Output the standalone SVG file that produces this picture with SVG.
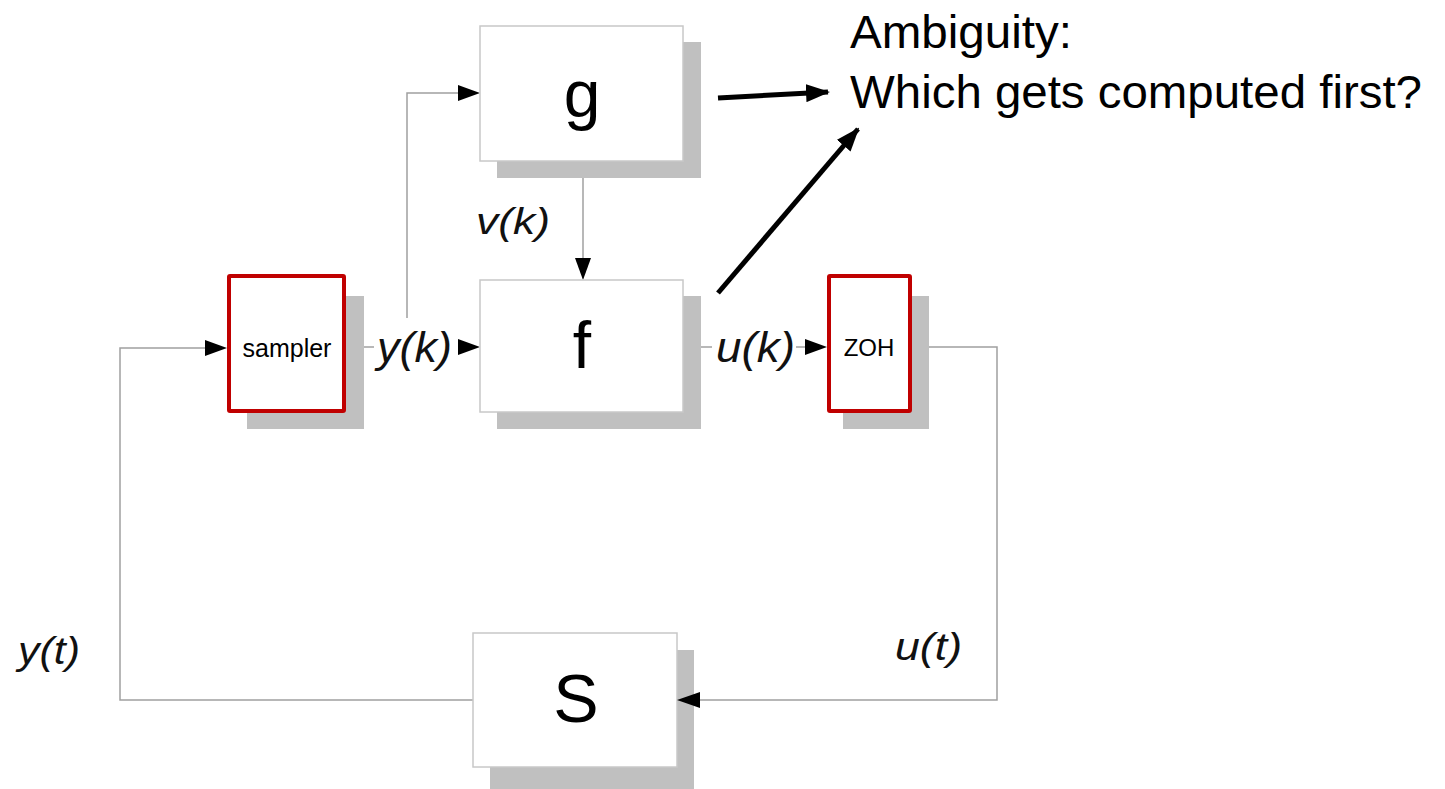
<svg xmlns="http://www.w3.org/2000/svg" width="1445" height="789" viewBox="0 0 1445 789">
<style>
.shadow{fill:#c0c0c0}
.box{fill:#fff;stroke:#c8c8c8;stroke-width:1.5}
.rbox{fill:#fff;stroke:#c00000;stroke-width:4}
.wire{fill:none;stroke:#a0a0a0;stroke-width:1.5}
.thick{fill:none;stroke:#000;stroke-width:5}
.big{font-family:"Liberation Sans",Arial,sans-serif;fill:#000;text-anchor:middle}
.sig{font-family:"Liberation Sans",Arial,sans-serif;font-style:italic;fill:#111}
.note{font-family:"Liberation Sans",Arial,sans-serif;font-size:46px;fill:#000}
</style>
<defs>
<marker id="bh" markerWidth="24" markerHeight="18" refX="22" refY="9" orient="auto" markerUnits="userSpaceOnUse">
<path d="M0,0 L24,9 L0,18 Z" fill="#000"/>
</marker>
</defs>

<g id="connectors">
<polyline class="wire" points="473,700 120,700 120,348 205,348"/>
<polygon points="205,340 227,348 205,356" fill="#000"/>
<line class="wire" x1="346" y1="347" x2="374" y2="347"/>
<polygon points="458,339 480,347 458,355" fill="#000"/>
<polyline class="wire" points="407,318 407,93 458,93"/>
<polygon points="458,85 480,93 458,101" fill="#000"/>
<line class="wire" x1="583" y1="161" x2="583" y2="258"/>
<polygon points="575,258 583,280 591,258" fill="#000"/>
<line class="wire" x1="683" y1="347" x2="712" y2="347"/>
<line class="wire" x1="796" y1="347" x2="806" y2="347"/>
<polygon points="805,339 827,347 805,355" fill="#000"/>
<polyline class="wire" points="912,347 997,347 997,700 700,700"/>
<line class="thick" x1="718" y1="98" x2="828" y2="92" marker-end="url(#bh)"/>
<line class="thick" x1="718" y1="293" x2="858" y2="129" marker-end="url(#bh)"/>
</g>

<g id="node-g">
<rect class="shadow" x="497" y="42" width="204" height="136"/>
<rect class="box" x="480" y="26" width="203" height="135"/>
<text class="big" x="582" y="117" font-size="66">g</text>
</g>

<g id="node-f">
<rect class="shadow" x="497" y="296" width="204" height="133"/>
<rect class="box" x="480" y="280" width="203" height="132"/>
<text class="big" x="582" y="368" font-size="66">f</text>
</g>

<g id="node-sampler">
<rect class="shadow" x="247" y="296" width="117" height="133"/>
<rect class="rbox" x="229" y="276" width="115" height="135" rx="1"/>
<text class="big" x="287" y="357" font-size="25" fill="#222">sampler</text>
</g>

<g id="node-zoh">
<rect class="shadow" x="843" y="296" width="86" height="133"/>
<rect class="rbox" x="829" y="276" width="81" height="135" rx="1"/>
<text class="big" x="869" y="356" font-size="24" fill="#222">ZOH</text>
</g>

<g id="node-s">
<rect class="shadow" x="490" y="650" width="204" height="139"/>
<rect class="box" x="473" y="633" width="204" height="134"/>
<text class="big" x="576" y="722" font-size="68">S</text>
<polygon points="700,692 677,700 700,708" fill="#000"/>
</g>

<g id="labels">
<text class="sig" x="377" y="362" font-size="42" textLength="75" lengthAdjust="spacingAndGlyphs">y(k)</text>
<text class="sig" x="716" y="362" font-size="42" textLength="79" lengthAdjust="spacingAndGlyphs">u(k)</text>
<text class="sig" x="476" y="234" font-size="37" textLength="74" lengthAdjust="spacingAndGlyphs">v(k)</text>
<text class="sig" x="18" y="664" font-size="38" textLength="62" lengthAdjust="spacingAndGlyphs">y(t)</text>
<text class="sig" x="895" y="660" font-size="38" textLength="67" lengthAdjust="spacingAndGlyphs">u(t)</text>
<text class="note" x="850" y="48" textLength="222" lengthAdjust="spacingAndGlyphs">Ambiguity:</text>
<text class="note" x="850" y="108" textLength="572" lengthAdjust="spacingAndGlyphs">Which gets computed first?</text>
</g>
</svg>
